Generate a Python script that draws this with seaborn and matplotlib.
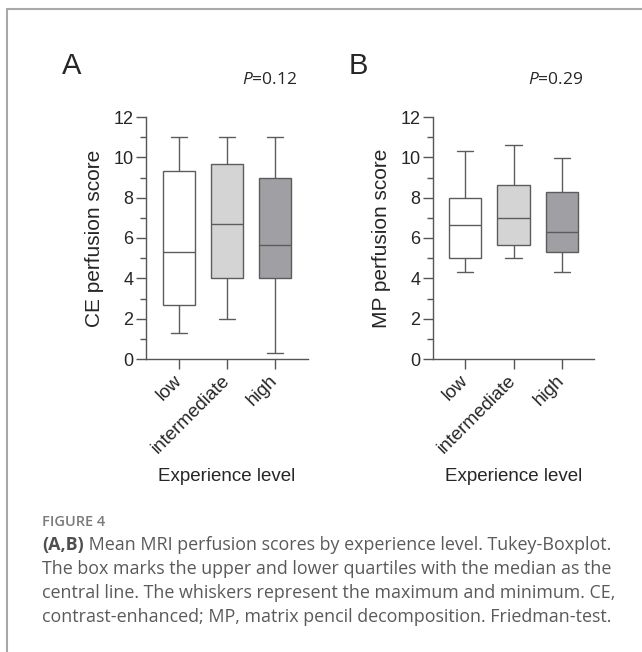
import numpy as np
import pandas as pd
import matplotlib
matplotlib.use("Agg")
import matplotlib.pyplot as plt
from matplotlib.ticker import MultipleLocator
from matplotlib.lines import Line2D
import seaborn as sns

# ---- data ----
categories = ["low", "intermediate", "high"]
# five-number summaries: min, Q1, median, Q3, max
ce_low = [1.3, 2.7, 5.33, 9.32, 11.0]
ce_intermediate = [2.0, 4.0, 6.67, 9.65, 11.0]
ce_high = [0.3, 4.0, 5.66, 9.0, 11.0]
mp_low = [4.3, 5.0, 6.65, 7.97, 10.3]
mp_intermediate = [5.0, 5.65, 6.98, 8.65, 10.63]
mp_high = [4.3, 5.33, 6.3, 8.28, 9.98]
p_values = ["0.12", "0.29"]
panel_letters = ["A", "B"]
y_labels = ["CE perfusion score", "MP perfusion score"]
x_label = "Experience level"
box_colors = ["#ffffff", "#d4d4d4", "#a0a0a4"]
caption_head = "FIGURE 4"
caption_bold = "(A,B)"
caption_lines = [
    " Mean MRI perfusion scores by experience level. Tukey-Boxplot.",
    "The box marks the upper and lower quartiles with the median as the",
    "central line. The whiskers represent the maximum and minimum. CE,",
    "contrast-enhanced; MP, matrix pencil decomposition. Friedman-test.",
]

def make_df(groups):
    rows = []
    for cat, vals in zip(categories, groups):
        for v in vals:
            rows.append({"level": cat, "score": v})
    return pd.DataFrame(rows)

df_ce = make_df([ce_low, ce_intermediate, ce_high])
df_mp = make_df([mp_low, mp_intermediate, mp_high])

sns.set_style("white")
plt.rcParams["font.family"] = ["Liberation Sans", "DejaVu Sans"]
plt.rcParams["mathtext.fontset"] = "custom"
plt.rcParams["mathtext.it"] = "Open Sans:italic"
plt.rcParams["mathtext.rm"] = "Open Sans"

W, H = 642, 652
fig = plt.figure(figsize=(W / 100, H / 100), dpi=100)
fig.patch.set_facecolor("white")

axA = fig.add_axes([146 / W, 1 - 359 / H, 162 / W, 242 / H])
axB = fig.add_axes([433 / W, 1 - 359 / H, 161 / W, 242 / H])

axis_col = "#555555"
for ax, df, ylab, xl in [(axA, df_ce, y_labels[0], (-0.69, 2.69)),
                         (axB, df_mp, y_labels[1], (-0.66, 2.66))]:
    sns.boxplot(data=df, x="level", y="score", hue="level", order=categories,
                hue_order=categories, palette=box_colors, legend=False,
                whis=(0, 100), width=0.67, linecolor="#5c5c5c", linewidth=1.0,
                dodge=False, ax=ax)
    ax.set_ylim(0, 12)
    ax.set_xlim(*xl)
    ax.yaxis.set_major_locator(MultipleLocator(2))
    ax.yaxis.set_minor_locator(MultipleLocator(1))
    for s in ["top", "right"]:
        ax.spines[s].set_visible(False)
    for s in ["left", "bottom"]:
        ax.spines[s].set_color(axis_col)
        ax.spines[s].set_linewidth(1.0)
    ax.tick_params(axis="y", which="major", length=7, width=1.0, color=axis_col,
                   labelsize=13, pad=2, left=True)
    ax.tick_params(axis="y", which="minor", length=4, width=1.0, color=axis_col, left=True)
    ax.tick_params(axis="x", which="major", length=7, width=1.0, color=axis_col,
                   labelsize=13.5, pad=3, bottom=True)
    ax.set_xticks(range(len(categories)))
    ax.set_xticklabels(categories, rotation=45, ha="right", va="center",
                       rotation_mode="anchor")
    for t in ax.get_xticklabels():
        t.set_y(-0.02)
    ax.set_ylabel(ylab, fontsize=15, labelpad=7)
    ax.set_xlabel(x_label, fontsize=13.5, labelpad=8)
    ax.set_facecolor("white")

# panel letters and p-values
fig.text(62 / W, 1 - 74 / H, panel_letters[0], fontsize=21, ha="left", va="baseline")
fig.text(349 / W, 1 - 74 / H, panel_letters[1], fontsize=21, ha="left", va="baseline")
for xr, pv in [(297, p_values[0]), (583, p_values[1])]:
    fig.text(xr / W, 1 - 80 / H, "$\\mathit{P}$=" + pv, fontsize=12.5, ha="right",
             va="center", family=["Open Sans", "DejaVu Sans"])

# caption
cap_font = ["Open Sans", "DejaVu Sans"]
cap_size = 12.9
fig.text(42 / W, 1 - 522 / H, caption_head, fontsize=10.5, color="#7a7a7a",
         fontweight="semibold", ha="left", va="center", family=cap_font)
line_y = [545, 569, 593, 617]
bold = fig.text(42 / W, 1 - line_y[0] / H, caption_bold, fontsize=cap_size, color="#4f4f4f",
                fontweight="bold", ha="left", va="center", family=cap_font)
fig.canvas.draw()
bb = bold.get_window_extent(renderer=fig.canvas.get_renderer())
fig.text(bb.x1 / W, 1 - line_y[0] / H, caption_lines[0], fontsize=cap_size, color="#5a5a5a",
         ha="left", va="center", family=cap_font)
for ly, txt in zip(line_y[1:], caption_lines[1:]):
    fig.text(42 / W, 1 - ly / H, txt, fontsize=cap_size, color="#5a5a5a",
             ha="left", va="center", family=cap_font)

# frame lines (top and left)
fig.add_artist(Line2D([7 / W, 1], [1 - 9 / H, 1 - 9 / H], color="#a8a8a8", lw=1.5,
                      transform=fig.transFigure))
fig.add_artist(Line2D([7 / W, 7 / W], [0, 1 - 9 / H], color="#a8a8a8", lw=1.5,
                      transform=fig.transFigure))

fig.savefig("out.png", dpi=100, facecolor="white")
